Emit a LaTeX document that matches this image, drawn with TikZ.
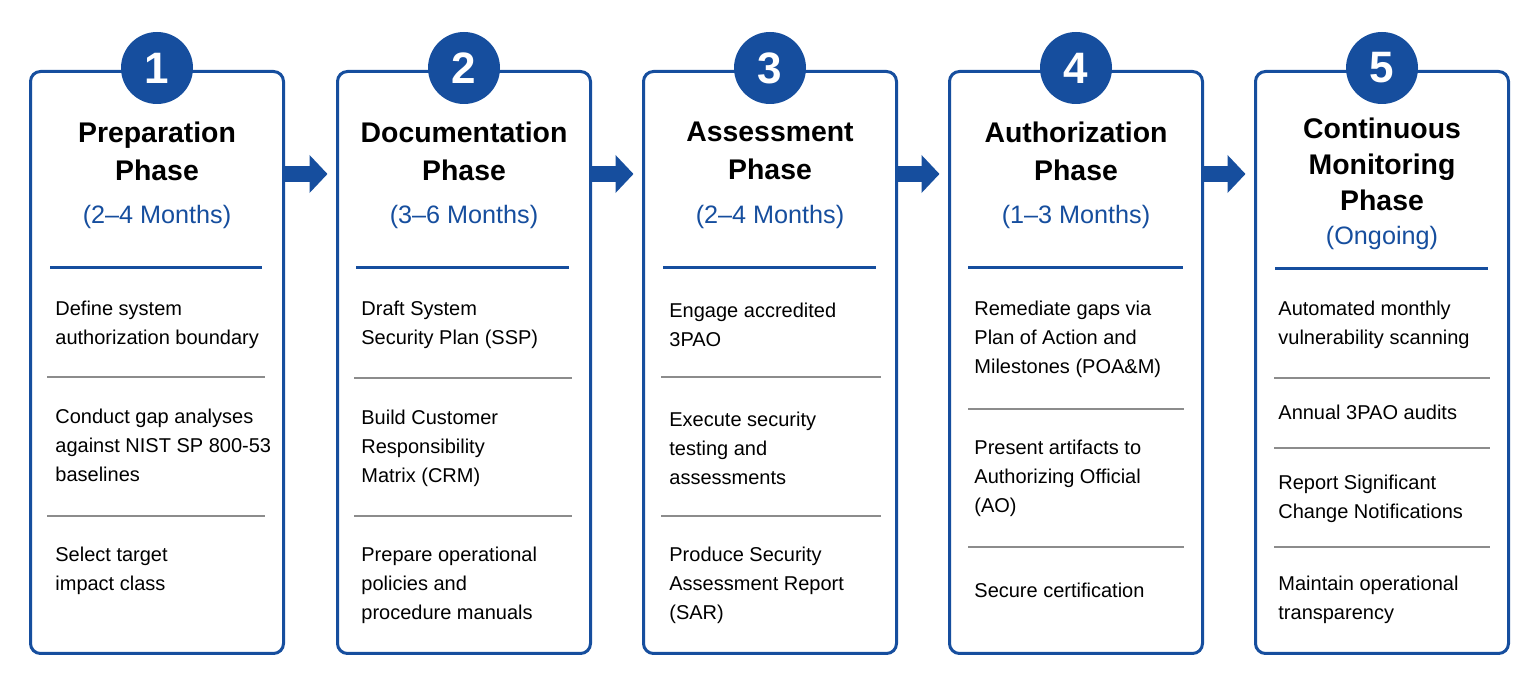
\documentclass[tikz,border=0pt]{standalone}
\usepackage{fontspec}
\setmainfont{Liberation Sans}
\usepackage{tikz}
\usetikzlibrary{arrows.meta}

\definecolor{phaseblue}{RGB}{22,78,158}
\definecolor{rulegray}{RGB}{140,140,140}

\tikzset{
    phasetitle/.style={align=center,font=\fontsize{14.2}{19}\selectfont\bfseries},
    phasetime/.style={text=phaseblue,font=\fontsize{12.6}{14}\selectfont},
    phaseitem/.style={anchor=west,align=left,inner sep=0pt,font=\fontsize{10}{14.5}\selectfont},
    bluerule/.style={draw=phaseblue,line width=1.5pt},
    grayrule/.style={draw=rulegray,line width=1pt}
}

\begin{document}
\begin{tikzpicture}[x=0.5pt,y=-0.5pt]
\useasboundingbox (0,0) rectangle (1536,688);

\begin{scope}[every node/.style={draw=phaseblue,line width=1.5pt,rounded corners=5pt,fill=white,minimum width=126.5pt,minimum height=291pt}]
    \node (Prep) at (157,362.5) {};
    \node (Doc) at (464,362.5) {};
    \node (Assess) at (770,362.5) {};
    \node (Auth) at (1076,362.5) {};
    \node (ConMon) at (1382,362.5) {};
    \end{scope}

\begin{scope}[every node/.style={circle,fill=phaseblue,text=white,minimum size=36pt,inner sep=0pt,font=\fontsize{22}{22}\selectfont\bfseries}]
    \node (PrepNum) at (157,68) {1};
    \node (DocNum) at (464,68) {2};
    \node (AssessNum) at (770,68) {3};
    \node (AuthNum) at (1076,68) {4};
    \node (ConMonNum) at (1382,68) {5};
    \end{scope}

\begin{scope}[>={Triangle[length=9pt,width=18.5pt]},
              every edge/.style={draw=phaseblue,line width=8pt,shorten >=4.25pt}]
    \path [->] ([yshift=-52pt]Prep.north east) edge ([yshift=-52pt]Doc.north west);
    \path [->] ([yshift=-52pt]Doc.north east) edge ([yshift=-52pt]Assess.north west);
    \path [->] ([yshift=-52pt]Assess.north east) edge ([yshift=-52pt]Auth.north west);
    \path [->] ([yshift=-52pt]Auth.north east) edge ([yshift=-52pt]ConMon.north west);
    \end{scope}

% phase 1
\node[phasetitle] (PrepTitle) at (157,151) {Preparation\\Phase};
\node[phasetime] (PrepTime) at (157,217) {(2--4 Months)};
\draw[bluerule] (50,268) -- (262,268);
\node[phaseitem] (PrepA) at (55,324.5) {Define system\\authorization boundary};
\draw[grayrule] (47,377) -- (265,377);
\node[phaseitem] (PrepB) at (55,445) {Conduct gap analyses\\against NIST SP 800-53\\baselines};
\draw[grayrule] (47,516) -- (265,516);
\node[phaseitem] (PrepC) at (55,570.5) {Select target\\impact class};

% phase 2
\node[phasetitle] (DocTitle) at (464,151) {Documentation\\Phase};
\node[phasetime] (DocTime) at (464,217) {(3--6 Months)};
\draw[bluerule] (356,268) -- (569,268);
\node[phaseitem] (DocA) at (361,324.5) {Draft System\\Security Plan (SSP)};
\draw[grayrule] (354,378) -- (572,378);
\node[phaseitem] (DocB) at (361,448) {Build Customer\\Responsibility\\Matrix (CRM)};
\draw[grayrule] (354,516) -- (572,516);
\node[phaseitem] (DocC) at (361,585) {Prepare operational\\policies and\\procedure manuals};

% phase 3
\node[phasetitle] (AssessTitle) at (770,151) {Assessment\\Phase};
\node[phasetime] (AssessTime) at (770,217) {(2--4 Months)};
\draw[bluerule] (663,268) -- (876,268);
\node[phaseitem] (AssessA) at (669,324.5) {Engage accredited\\3PAO};
\draw[grayrule] (661,377) -- (881,377);
\node[phaseitem] (AssessB) at (669,448) {Execute security\\testing and\\assessments};
\draw[grayrule] (661,516) -- (881,516);
\node[phaseitem] (AssessC) at (669,585) {Produce Security\\Assessment Report\\(SAR)};

% phase 4
\node[phasetitle] (AuthTitle) at (1076,151) {Authorization\\Phase};
\node[phasetime] (AuthTime) at (1076,217) {(1--3 Months)};
\draw[bluerule] (968,268) -- (1183,268);
\node[phaseitem] (AuthA) at (974,339) {Remediate gaps via\\Plan of Action and\\Milestones (POA\&M)};
\draw[grayrule] (968,409) -- (1184,409);
\node[phaseitem] (AuthB) at (974,478) {Present artifacts to\\Authorizing Official\\(AO)};
\draw[grayrule] (968,547) -- (1184,547);
\node[phaseitem] (AuthC) at (974,590) {Secure certification};

% phase 5
\node[phasetitle,font=\fontsize{14.2}{18}\selectfont\bfseries] (ConMonTitle) at (1382,164) {Continuous\\Monitoring\\Phase};
\node[phasetime] (ConMonTime) at (1382,238) {(Ongoing)};
\draw[bluerule] (1275,269) -- (1488,269);
\node[phaseitem] (ConMonA) at (1278,324.5) {Automated monthly\\vulnerability scanning};
\draw[grayrule] (1274,378) -- (1490,378);
\node[phaseitem] (ConMonB) at (1278,412) {Annual 3PAO audits};
\draw[grayrule] (1274,448) -- (1490,448);
\node[phaseitem] (ConMonC) at (1278,498.5) {Report Significant\\Change Notifications};
\draw[grayrule] (1274,547) -- (1490,547);
\node[phaseitem] (ConMonD) at (1278,600) {Maintain operational\\transparency};

\end{tikzpicture}
\end{document}
